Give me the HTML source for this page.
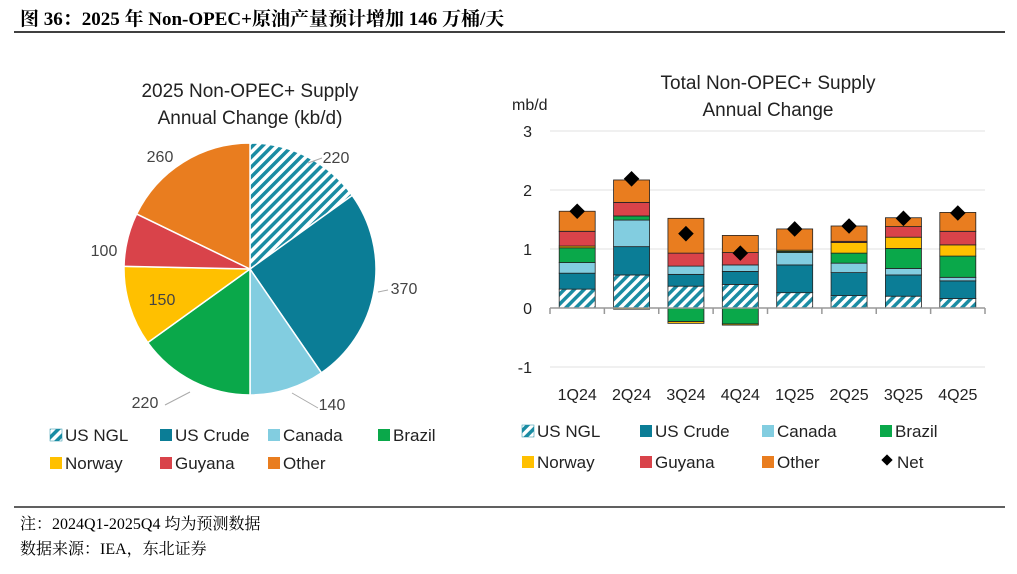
<!DOCTYPE html>
<html><head><meta charset="utf-8"><style>
body{margin:0;background:#fff;width:1017px;height:574px;overflow:hidden;font-family:"Liberation Sans","Noto Sans CJK SC",sans-serif}
svg{position:absolute;left:0;top:0}
</style></head><body>
<svg width="1017" height="574">
<defs>
<pattern id="hatch" width="7" height="7" patternUnits="userSpaceOnUse" patternTransform="rotate(45)">
<rect width="7" height="7" fill="#fff"/><rect width="3.5" height="7" fill="#1a8ca3"/></pattern>
</defs>
<text x="20" y="25" font-family="Liberation Serif,Noto Serif CJK SC,serif" font-weight="bold" font-size="19" fill="#000">图 36：2025 年 Non-OPEC+原油产量预计增加 146 万桶/天</text>
<line x1="14" y1="32" x2="1005" y2="32" stroke="#000" stroke-width="1.5"/>
<line x1="14" y1="507" x2="1005" y2="507" stroke="#000" stroke-width="1.2"/>
<text x="20" y="529" font-family="Liberation Serif,Noto Serif CJK SC,serif" font-size="16">注：2024Q1-2025Q4 均为预测数据</text>
<text x="20" y="554" font-family="Liberation Serif,Noto Serif CJK SC,serif" font-size="16">数据来源：IEA，东北证券</text>

<text x="250" y="97" text-anchor="middle" font-size="19" fill="#222">2025 Non-OPEC+ Supply</text>
<text x="250" y="124" text-anchor="middle" font-size="19" fill="#222">Annual Change (kb/d)</text>
<g id="pie"></g>
<g id="pieLegend"></g>

<text x="768" y="89" text-anchor="middle" font-size="19" fill="#222">Total Non-OPEC+ Supply</text>
<text x="768" y="116" text-anchor="middle" font-size="19" fill="#222">Annual Change</text>
<text x="512" y="110" font-size="16" fill="#222">mb/d</text>
<g id="bars"></g>
<g id="barLegend"></g>
</svg>
<script>
const NS='http://www.w3.org/2000/svg';
function mk(tag,attrs,parent){const e=document.createElementNS(NS,tag);for(const k in attrs)e.setAttribute(k,attrs[k]);parent.appendChild(e);return e;}
const seriesNames=['US NGL','US Crude','Canada','Brazil','Norway','Guyana','Other'];
const colors=['url(#hatch)','#0b7d96','#82cde0','#0aa84a','#ffc000','#d9434a','#e97d1f'];
// Pie data (kb/d)
const pieLabels=['US NGL','US Crude','Canada','Brazil','Norway','Guyana','Other'];
const pieValues=[220,370,140,220,150,100,260];
// Bar data (mb/d)
const categories=['1Q24','2Q24','3Q24','4Q24','1Q25','2Q25','3Q25','4Q25'];
const usNgl=[0.32,0.56,0.37,0.40,0.26,0.21,0.20,0.16];
const usCrude=[0.27,0.48,0.20,0.22,0.47,0.39,0.36,0.30];
const canada=[0.18,0.45,0.14,0.11,0.21,0.16,0.11,0.06];
const brazil=[0.25,0.07,-0.23,-0.27,0.02,0.17,0.34,0.36];
const norway=[0.03,-0.02,-0.03,-0.02,0.02,0.18,0.19,0.19];
const guyana=[0.25,0.23,0.22,0.21,0.00,0.02,0.18,0.23];
const other=[0.34,0.38,0.59,0.29,0.36,0.26,0.15,0.32];
const net=[1.64,2.19,1.26,0.93,1.34,1.39,1.52,1.61];
const yTicks=[3,2,1,0,-1];
const series=[usNgl,usCrude,canada,brazil,norway,guyana,other];

// Pie
const pg=document.getElementById('pie');
const cx=250,cy=269,r=126;
const total=pieValues.reduce((a,b)=>a+b,0);
let ang=-Math.PI/2;
const labelPos=[[336,163],[404,294],[332,410],[145,408],[162,305],[104,256],[160,162]];
pieValues.forEach((v,i)=>{
 const a2=ang+v/total*2*Math.PI;
 const x1=cx+r*Math.cos(ang),y1=cy+r*Math.sin(ang),x2=cx+r*Math.cos(a2),y2=cy+r*Math.sin(a2);
 const large=(a2-ang)>Math.PI?1:0;
 const p=mk('path',{d:`M${cx},${cy}L${x1},${y1}A${r},${r} 0 ${large} 1 ${x2},${y2}Z`,fill:colors[i],stroke:'#fff','stroke-width':1.5},pg);
 
 
 const t=mk('text',{x:labelPos[i][0],y:labelPos[i][1],'text-anchor':'middle','font-size':16,fill:'#444'},pg);
 t.textContent=v;
 
 
 ang=a2;
});
[[308,163,322,158],[378,292,388,290],[318,408,292,393],[165,405,190,392]].forEach(l=>{
 const ln=mk('line',{x1:l[0],y1:l[1],x2:l[2],y2:l[3],stroke:'#aaa','stroke-width':1},pg);
 
 
});

function legend(g,pos,size){
 seriesNames.forEach((n,i)=>{
  const [x,y]=pos[i];
  const sw=mk('rect',{x:x,y:y-11,width:12,height:12,fill:colors[i],stroke:i==0?'#1a8ca3':'none','stroke-width':0.5},g);
  
  
  const t=mk('text',{x:x+15,y:y+1,'font-size':size,fill:'#222'},g);
  t.textContent=n;
  
  
 });
}
legend(document.getElementById('pieLegend'),[[50,440],[160,440],[268,440],[378,440],[50,468],[160,468],[268,468]],17);

// Bars
const bg=document.getElementById('bars');
const x0=550,x1=985,y0=308,ppu=59;
const yS=v=>y0-v*ppu;
const bw=(x1-x0)/categories.length;
yTicks.forEach(t=>{
 if(t!==0){const g=mk('line',{x1:x0,x2:x1,y1:yS(t),y2:yS(t),stroke:'#e0e0e0'},bg);
 
 }
 const tx=mk('text',{x:532,y:yS(t)+6,'text-anchor':'end','font-size':16,fill:'#222'},bg);
 tx.textContent=t;
 
 
});
categories.forEach((c,i)=>{
 const cxb=x0+bw*(i+0.5);
 let pos=0,neg=0;
 series.forEach((s,j)=>{
  const v=s[i];if(v===0)return;
  let top,bot;
  if(v>0){bot=pos;top=pos+v;pos=top;}else{top=neg;bot=neg+v;neg=bot;}
  const rc=mk('rect',{x:cxb-18,y:yS(top),width:36,height:yS(bot)-yS(top),fill:colors[j],stroke:'#222','stroke-width':0.8},bg);
  
  
 });
 const ny=yS(net[i]);
 const d=mk('rect',{x:cxb-5.5,y:ny-5.5,width:11,height:11,fill:'#000',transform:`rotate(45 ${cxb} ${ny})`},bg);
 
 
 const t=mk('text',{x:cxb,y:400,'text-anchor':'middle','font-size':16,fill:'#222'},bg);
 t.textContent=c;
 
 
});
const ax=mk('line',{x1:x0,x2:x1,y1:y0,y2:y0,stroke:'#999','stroke-width':1.5},bg);


for(let i=0;i<=categories.length;i++){
 const tk=mk('line',{x1:x0+bw*i,x2:x0+bw*i,y1:y0,y2:y0+6,stroke:'#999','stroke-width':1.5},bg);
 
 
}
const blg=document.getElementById('barLegend');
legend(blg,[[522,436],[640,436],[762,436],[880,436],[522,467],[640,467],[762,467]],17);
const nd=mk('rect',{x:883,y:456,width:8,height:8,fill:'#000',transform:'rotate(45 887 460)'},blg);


const nt=mk('text',{x:897,y:468,'font-size':17,fill:'#222'},blg);
nt.textContent='Net';


</script>
</body></html>
